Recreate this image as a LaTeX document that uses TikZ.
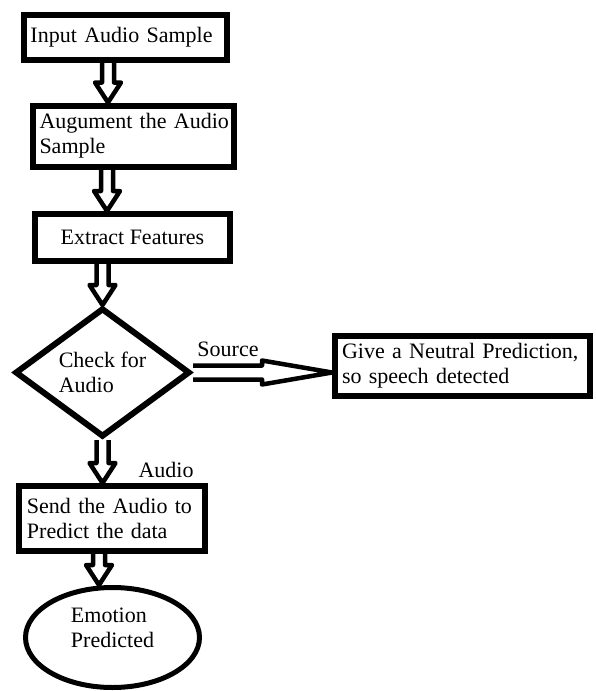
\documentclass[tikz,border=0pt]{standalone}
\usepackage{fontspec}
\setmainfont{Liberation Serif}
\usetikzlibrary{calc,shapes.geometric}
\tikzset{
  box/.style={draw,line width=6pt,align=left,inner ysep=0pt},
  hollowdown/.style={line width=4.5pt,line join=round,to path={($(\tikztostart)+(-6,0)$) -- ($(\tikztotarget)+(-6,-20)$) -- ($(\tikztotarget)+(-13,-20)$) -- (\tikztotarget) -- ($(\tikztotarget)+(13,-20)$) -- ($(\tikztotarget)+(6,-20)$) -- ($(\tikztostart)+(6,0)$)}},
  hollowright/.style={line width=4.5pt,line join=round,to path={($(\tikztostart)+(0,-7)$) -- ($(\tikztotarget)+(-70,-7)$) -- ($(\tikztotarget)+(-70,-12)$) -- (\tikztotarget) -- ($(\tikztotarget)+(-70,12)$) -- ($(\tikztotarget)+(-70,7)$) -- ($(\tikztostart)+(0,7)$)}}
}
\begin{document}
\begin{tikzpicture}[x=1pt,y=-1pt,font=\fontsize{22}{25}\selectfont]
\useasboundingbox (0,0) rectangle (595,691);
\node[box,minimum width=203,minimum height=45,text width=189,inner xsep=7] (inp) at (125,37.5) {Input Audio Sample};
\node[box,minimum width=200.5,minimum height=61,text width=187.5,inner xsep=6.5] (aug) at (133.25,136) {\mbox{Augument the Audio}\\Sample};
\node[box,minimum width=195,minimum height=47,align=center] (ext) at (132.5,237.5) {Extract Features};
\node[diamond,draw,line width=6pt,minimum width=175,minimum height=129,align=left,inner sep=0pt] (chk) at (102.5,372.5) {Check for\\Audio};
\node[box,minimum width=255,minimum height=59.5,text width=241,inner xsep=7] (neu) at (462.5,366) {Give a Neutral Prediction,\\so speech detected};
\node[box,minimum width=186.5,minimum height=65,text width=169.5,inner xsep=8.5] (snd) at (111.75,518.5) {Send the Audio to\\Predict the data};
\node[ellipse,draw,line width=5pt,minimum width=174,minimum height=100,align=left,text depth=19] (emo) at (112.5,637.5) {Emotion\\Predicted};
\node (src) at (228,349) {Source};
\node (aud) at (166,470) {Audio};
\draw[hollowdown] (inp.south -| 108,0) to (aug.north -| 108,0);
\draw[hollowdown] (aug.south -| 107,0) to (ext.north -| 107,0);
\draw[hollowdown] (ext.south -| chk.north) to (chk.north);
\draw[hollowdown] (chk.south) to (snd.north -| chk.south);
\draw[hollowdown] (snd.south -| 99,0) to (emo.north -| 99,0);
\draw[hollowright] (chk.east) to (chk.east -| neu.west);
\end{tikzpicture}
\end{document}
